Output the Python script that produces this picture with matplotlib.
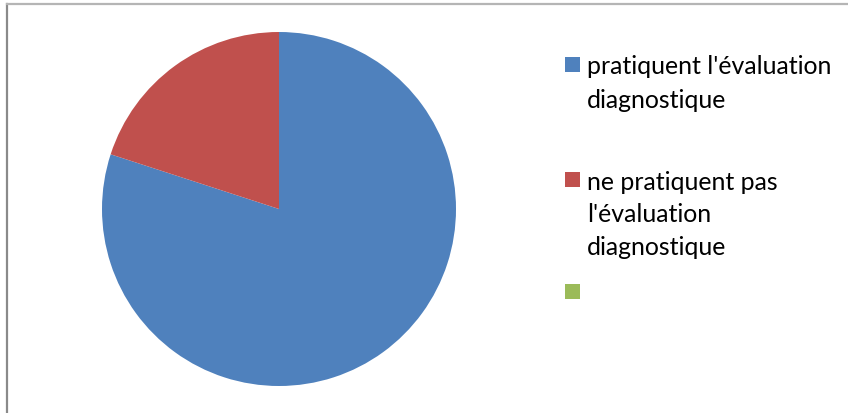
import matplotlib.pyplot as plt
from matplotlib.patches import Rectangle
from matplotlib.lines import Line2D

labels = ["pratiquent l'évaluation\ndiagnostique",
          "ne pratiquent pas\nl'évaluation\ndiagnostique",
          ""]
values = [80, 20, 0]
colors = ['#4F81BD', '#C0504D', '#9BBB59']

W, H = 848, 414
fig = plt.figure(figsize=(W / 100, H / 100), dpi=100)
plt.rcParams['font.family'] = ['Lato', 'DejaVu Sans']

# pie centre (279, 210) px, radius 177 px
cx, cy, r = 279, 210, 177
ax = fig.add_axes([(cx - r) / W, (H - cy - r) / H, 2 * r / W, 2 * r / H])
ax.pie(values, colors=colors, startangle=90, counterclock=False,
       radius=1, wedgeprops=dict(linewidth=0))
ax.set_xlim(-1, 1)
ax.set_ylim(-1, 1)
ax.set_aspect('equal')
ax.axis('off')

# legend drawn by hand, Excel style
legend_y = [65, 180, 292]
for lab, col, y in zip(labels, colors, legend_y):
    fig.patches.append(Rectangle((565 / W, (H - y - 7.5) / H), 15 / W, 15 / H,
                                 transform=fig.transFigure, facecolor=col,
                                 edgecolor='none'))
    for k, line in enumerate(lab.split('\n')):
        if line:
            fig.text(587 / W, (H - y - 33 * k) / H, line, fontsize=17.9,
                     va='center_baseline', ha='left', color='black')

# chart frame (only left and top edges visible)
fig.lines.append(Line2D([7 / W, 7 / W], [0, (H - 5) / H], transform=fig.transFigure,
                        color='#8a8a8a', linewidth=1.6))
fig.lines.append(Line2D([7 / W, 1], [(H - 5) / H, (H - 5) / H], transform=fig.transFigure,
                        color='#b5b5b5', linewidth=1.6))

fig.savefig('out.png', dpi=100)
